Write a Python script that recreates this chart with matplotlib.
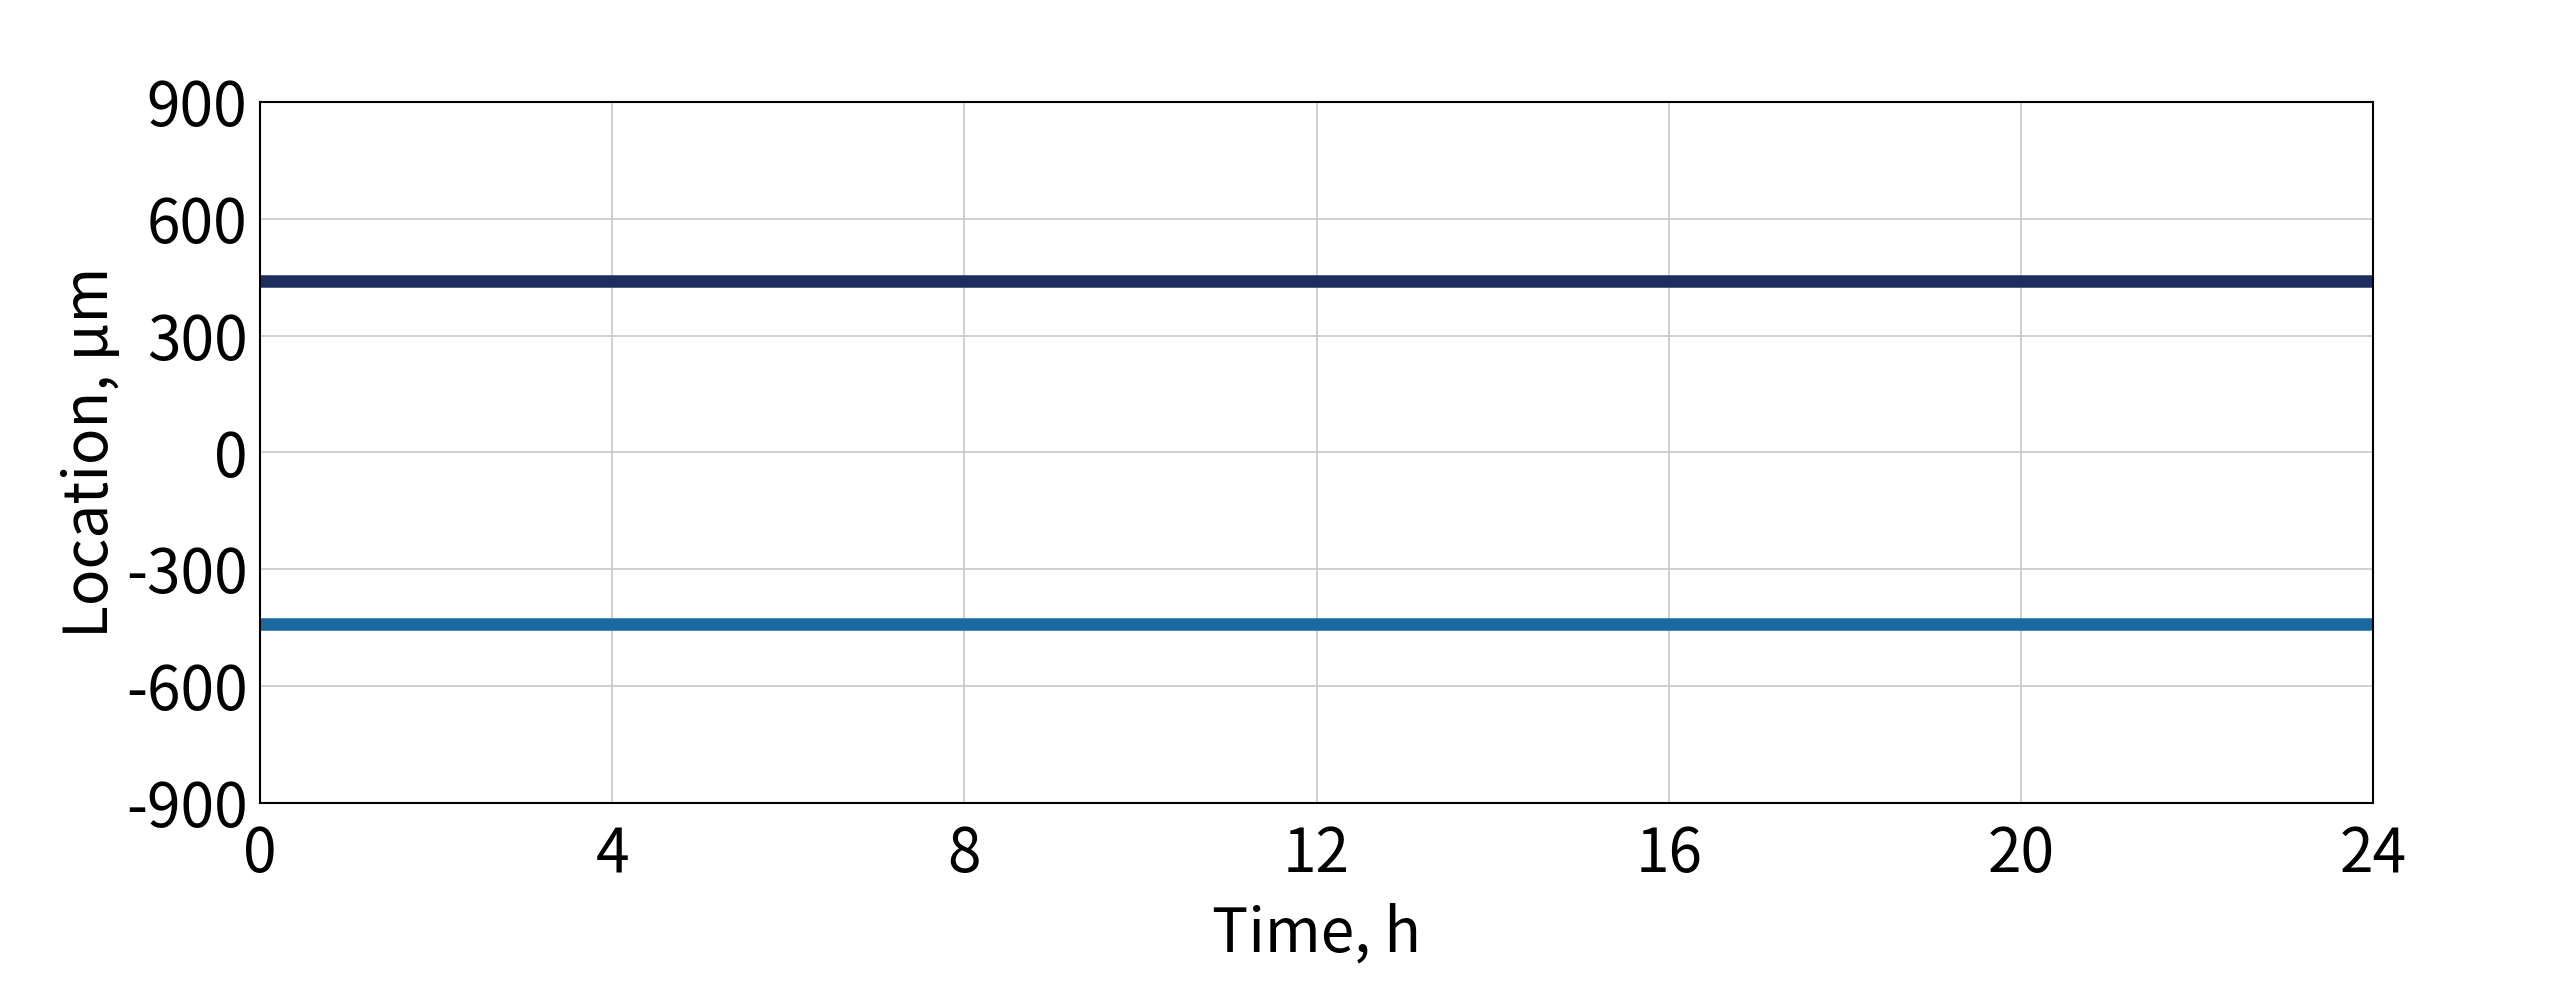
import matplotlib as mpl
mpl.use('Agg')
import matplotlib.pyplot as plt

plt.rcParams['font.family'] = ['Noto Sans CJK SC', 'DejaVu Sans']

# hourly readings of the two edge locations (um)
time_h = [0, 1, 2, 3, 4, 5, 6, 7, 8, 9, 10, 11, 12, 13, 14, 15, 16, 17, 18, 19, 20, 21, 22, 23, 24]
upper_um = [440, 440, 440, 440, 440, 440, 440, 440, 440, 440, 440, 440, 440, 440, 440, 440, 440, 440, 440, 440, 440, 440, 440, 440, 440]
lower_um = [-440, -440, -440, -440, -440, -440, -440, -440, -440, -440, -440, -440, -440, -440, -440, -440, -440, -440, -440, -440, -440, -440, -440, -440, -440]

x_ticks = [0, 4, 8, 12, 16, 20, 24]
y_ticks = [-900, -600, -300, 0, 300, 600, 900]

fig = plt.figure(figsize=(8.5, 3.3), dpi=300)
ax = fig.add_axes([0.102, 0.189, 0.8286, 0.708])

ax.plot(time_h, upper_um, color='#1e2d5f', lw=3.0, solid_capstyle='butt')
ax.plot(time_h, lower_um, color='#1a68a0', lw=3.0, solid_capstyle='butt')

ax.set_xlim(0, 24)
ax.set_ylim(-900, 900)
ax.set_xticks(x_ticks)
ax.set_yticks(y_ticks)
ax.set_yticklabels(['-900', '-600', '-300', '0', '300', '600', '900'])
ax.grid(True, color='#c8c8c8', lw=0.4)
ax.set_axisbelow(True)
for s in ax.spines.values():
    s.set_linewidth(0.5)
    s.set_color('black')
ax.tick_params(axis='y', length=0, labelsize=14.5, pad=3)
ax.tick_params(axis='x', length=0, labelsize=14.5, pad=5)
for lab in ax.get_xticklabels() + ax.get_yticklabels():
    lab.set_fontweight('light')

ax.set_xlabel('Time, h', fontsize=14.5, fontweight='light', labelpad=4)
ax.set_ylabel('Location, µm', fontsize=14.5, fontweight='light', labelpad=1)

fig.savefig('out.png', dpi=300)
